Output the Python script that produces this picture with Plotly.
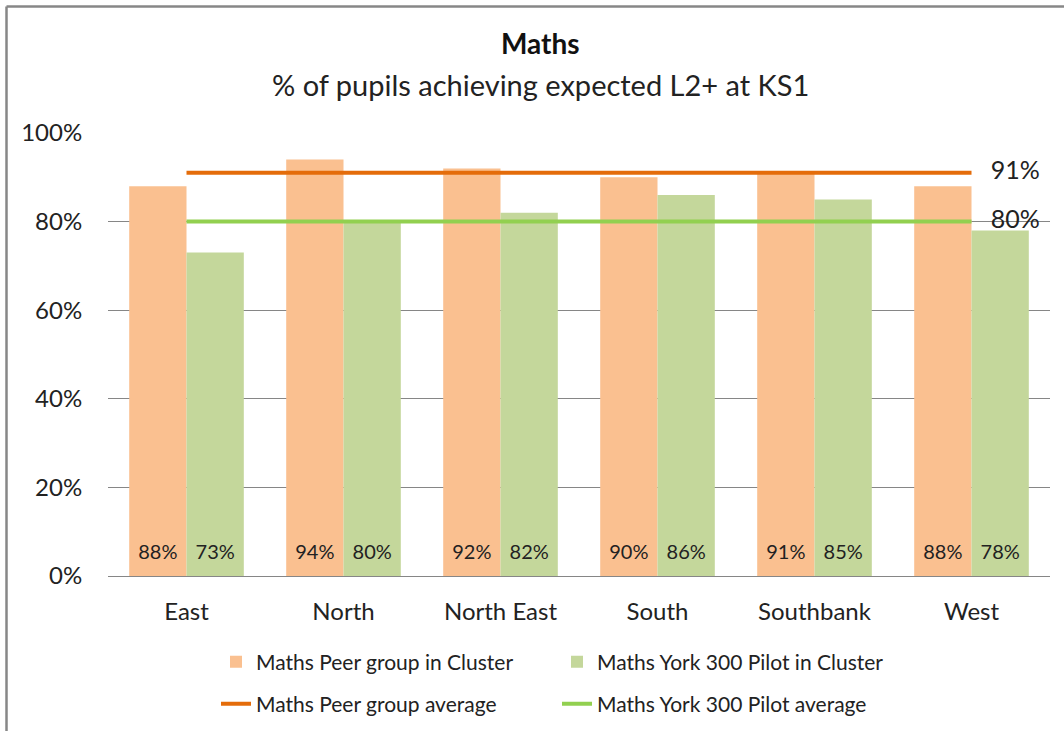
import plotly.graph_objects as go

categories = ["East", "North", "North East", "South", "Southbank", "West"]
peer_cluster = [0.88, 0.94, 0.92, 0.90, 0.91, 0.88]
york_cluster = [0.73, 0.80, 0.82, 0.86, 0.85, 0.78]
peer_average = 0.91
york_average = 0.80
y_ticks = [0, 0.2, 0.4, 0.6, 0.8, 1.0]
y_tick_labels = ["0%", "20%", "40%", "60%", "80%", "100%"]

FONT = "Lato"
W, H = 1064, 731
L, R, T, B = 108, 14, 133, 155
PW, PH = W - L - R, H - T - B
LABEL_Y = 22 / PH  # data-label baseline height inside the bars
GAP = 0.27


def px_x(x):
    return (x - L) / PW


def px_y(y):
    return 1 - (y - T) / PH


def pct(v):
    return f"{round(v * 100):.0f}%"


fig = go.Figure()
fig.add_trace(go.Bar(
    x=categories, y=peer_cluster, name="Maths Peer group in Cluster",
    marker=dict(color="#FAC090", line=dict(width=0)), legend="legend",
    hovertemplate="%{x}: %{y:.0%}<extra></extra>",
))
fig.add_trace(go.Bar(
    x=categories, y=york_cluster, name="Maths York 300 Pilot in Cluster",
    marker=dict(color="#C4D79B", line=dict(width=0)), legend="legend",
    hovertemplate="%{x}: %{y:.0%}<extra></extra>",
))
# data labels at the foot of each bar (grouped like the bars)
for vals, grp in [(peer_cluster, "peer"), (york_cluster, "york")]:
    fig.add_trace(go.Scatter(
        x=categories, y=[LABEL_Y] * len(vals), mode="text",
        text=[pct(v) for v in vals], textposition="middle center",
        textfont=dict(family=FONT, size=20, color="#222222"),
        offsetgroup=grp, alignmentgroup="labels", orientation="v",
        showlegend=False, hoverinfo="skip",
    ))
n = len(categories)
for val, name, color in [(peer_average, "Maths Peer group average", "#E46C0A"),
                         (york_average, "Maths York 300 Pilot average", "#92D050")]:
    fig.add_trace(go.Scatter(
        x=categories, y=[val] * n, name=name,
        offsetgroup="avg", alignmentgroup="avg", orientation="v",
        mode="lines+text", line=dict(color=color, width=4),
        text=[""] * (n - 1) + ["   " + pct(val)], textposition="middle right",
        textfont=dict(family=FONT, size=25, color="#222222"),
        cliponaxis=False, legend="legend2", hoverinfo="skip",
    ))

legend_common = dict(
    orientation="h", xanchor="left", yanchor="middle",
    font=dict(family=FONT, size=21, color="#222222"),
    entrywidth=296, entrywidthmode="pixels", bgcolor="rgba(0,0,0,0)",
    itemclick=False, itemdoubleclick=False,
)
fig.update_layout(
    width=W, height=H,
    margin=dict(l=L, r=R, t=T, b=B, pad=0, autoexpand=False),
    paper_bgcolor="white", plot_bgcolor="white",
    barmode="group", bargap=GAP, bargroupgap=0,
    scattermode="group", scattergap=GAP,
    font=dict(family=FONT, color="#222222"),
    showlegend=True,
    legend=dict(x=px_x(216), y=px_y(662), **legend_common),
    legend2=dict(x=px_x(216), y=px_y(704), **legend_common),
    xaxis=dict(
        type="category", categoryarray=categories, showgrid=False,
        showline=True, linecolor="#868686", linewidth=1,
        ticks="outside", ticklen=14, tickcolor="rgba(0,0,0,0)",
        tickfont=dict(family=FONT, size=24, color="#222222"),
    ),
    yaxis=dict(
        range=[0, 1], tickvals=y_ticks, ticktext=y_tick_labels,
        showgrid=True, gridcolor="#868686", gridwidth=1, zeroline=False,
        showline=False, ticks="outside", ticklen=20, tickcolor="rgba(0,0,0,0)",
        tickfont=dict(family=FONT, size=24, color="#222222"),
    ),
    annotations=[
        dict(text="<b>Maths</b>", x=px_x(540), y=px_y(43), xref="paper", yref="paper",
             showarrow=False, font=dict(family=FONT, size=28, color="#111111"),
             xanchor="center", yanchor="middle"),
        dict(text="% of pupils achieving expected L2+ at KS1", x=px_x(540), y=px_y(84),
             xref="paper", yref="paper", showarrow=False,
             font=dict(family=FONT, size=29, color="#222222"),
             xanchor="center", yanchor="middle"),
    ],
    shapes=[
        dict(type="line", xref="paper", yref="paper", x0=px_x(6.5), x1=px_x(1070),
             y0=px_y(6.5), y1=px_y(6.5), line=dict(color="#878787", width=2.5)),
        dict(type="line", xref="paper", yref="paper", x0=px_x(6.5), x1=px_x(6.5),
             y0=px_y(6.5), y1=px_y(740), line=dict(color="#878787", width=2.5)),
    ],
)

fig.write_html(
    "out.html",
    config={"displayModeBar": False},
    post_script="document.body.style.margin='0';document.body.style.overflow='hidden';",
)
